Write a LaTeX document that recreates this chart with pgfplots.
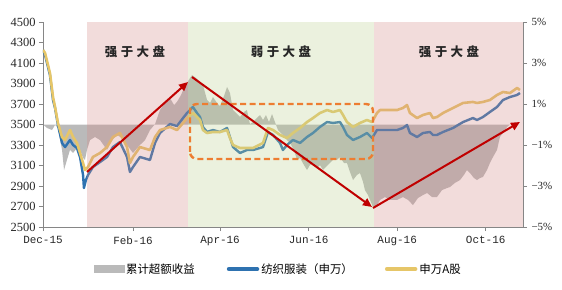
\documentclass[border=0pt]{standalone}
\usepackage{fontspec}
\setmainfont{Liberation Serif}
\newfontfamily\cjk{Noto Sans CJK SC}
\newfontfamily\cjkls[LetterSpace=28]{Noto Sans CJK SC}
\newfontfamily\monof{Liberation Mono}
\usepackage{pgfplots}
\usepackage{pgfplotstable}
\pgfplotsset{compat=1.18}
\usetikzlibrary{arrows.meta}

\definecolor{pinkov}{RGB}{212,138,135}
\definecolor{greenov}{RGB}{188,208,145}
\definecolor{grayarea}{RGB}{186,186,186}
\definecolor{blueL}{RGB}{46,114,176}
\definecolor{goldL}{RGB}{230,198,104}
\definecolor{arrowred}{RGB}{192,0,0}
\definecolor{dashor}{RGB}{237,125,49}
\definecolor{axgray}{RGB}{134,134,134}

\pgfplotstableread{
d p
0 0
2.8 -0.17
6.2 -0.27
8.3 -0.02
10.3 -0.17
13.1 -1.24
14.5 -2.22
16.5 -1.73
18.6 -1.24
20.7 -1.39
23.4 -1.15
25.5 -1.24
27.6 -1.63
28.9 -1.73
30.3 -1.24
32.4 -0.76
35.8 -0.61
39.3 -0.76
44.1 -1.24
47.5 -0.76
51.0 -0.51
54.4 -0.66
57.9 -1.00
62.0 -1.39
66.8 -1.00
70.3 -0.76
73.7 -0.27
77.2 0.02
80.6 0.71
84.1 1.05
87.5 1.29
90.3 0.95
92.3 1.10
95.1 1.44
97.1 1.78
99.2 2.02
101.3 2.27
102.7 2.41
105.4 2.27
108.2 2.07
110.2 1.93
113.0 1.20
115.1 1.05
117.1 1.34
119.9 1.05
121.9 0.90
124.7 1.39
126.8 1.83
128.8 1.54
130.9 0.71
133.7 0.51
135.7 0.37
138.5 0.61
140.5 0.71
142.6 0.02
144.7 0.12
147.4 0.32
149.5 0.46
151.6 0.22
153.6 0.46
155.7 0.12
157.8 0.51
159.8 0.12
161.9 -0.27
165.3 -0.51
168.1 -0.76
170.2 -0.90
172.9 -1.24
175.0 -1.73
177.1 -1.63
179.8 -1.98
181.9 -2.22
183.9 -1.98
186.0 -1.88
188.8 -2.12
190.8 -1.98
192.9 -2.22
195.7 -2.02
197.7 -1.88
199.8 -1.73
202.5 -1.73
204.6 -1.59
207.4 -1.88
209.4 -1.88
211.5 -2.32
213.6 -2.71
216.3 -2.46
218.4 -2.37
220.5 -2.80
221.8 -3.20
223.9 -3.44
225.3 -3.68
227.3 -4.02
230.1 -3.93
232.2 -3.68
235.6 -3.54
239.1 -3.68
243.9 -3.68
248.0 -3.54
251.5 -3.68
254.9 -3.93
258.3 -3.59
261.8 -3.44
264.6 -3.34
268.0 -3.54
271.4 -3.54
274.9 -3.20
278.3 -3.10
280.4 -3.05
283.8 -2.85
287.3 -2.71
290.0 -2.46
292.1 -2.22
294.2 -2.37
296.9 -2.61
299.0 -2.71
301.1 -2.61
303.1 -2.56
305.9 -2.22
307.9 -1.88
310.0 -1.59
312.8 -1.24
314.8 -0.61
316.9 -0.41
319.7 -0.12
321.7 0.0
327 0
}\excess

\pgfplotstableread{
d v
0 4227
1.4 4198
4.8 4002
6.9 3768
8.3 3671
10.3 3515
13.1 3378
15.2 3349
18.6 3446
20.7 3378
23.4 3320
25.5 3222
27.6 3124
28.9 3056
31.0 3085
34.4 3183
39.3 3222
44.1 3280
48.2 3378
53.0 3417
57.9 3280
59.9 3124
62.0 3183
66.8 3280
73.7 3251
77.2 3378
80.6 3446
87.5 3476
92.3 3446
96.5 3515
99.2 3563
103.3 3612
108.2 3544
110.2 3446
113.0 3417
117.1 3427
121.9 3427
126.8 3446
128.8 3368
130.9 3300
135.7 3271
140.5 3271
144.7 3271
151.6 3320
155.0 3466
158.5 3446
163.3 3398
168.1 3368
172.2 3417
177.1 3466
181.9 3524
186.0 3563
190.8 3612
195.7 3641
199.8 3622
204.6 3641
206.7 3593
209.4 3524
213.6 3476
218.4 3515
223.2 3544
226.7 3524
230.1 3612
232.2 3641
239.1 3641
243.9 3641
248.0 3661
250.8 3690
252.8 3612
257.7 3563
261.8 3593
266.6 3612
268.7 3563
271.4 3573
275.6 3612
282.5 3661
289.4 3710
296.2 3720
299.0 3710
303.1 3720
307.9 3739
312.8 3788
316.9 3817
321.7 3807
326.6 3856
328.6 3837
}\swa

\pgfplotstableread{
d v
0 4227
1.4 4178
4.8 3983
6.9 3739
8.3 3661
10.3 3495
13.1 3320
15.2 3280
18.6 3349
20.7 3300
23.4 3271
25.5 3183
27.6 3007
28.2 2880
29.6 2959
31.0 3007
34.4 3085
39.3 3134
44.1 3183
48.2 3280
53.0 3329
57.9 3183
59.9 3037
62.0 3085
66.8 3183
73.7 3154
77.2 3320
80.6 3417
87.5 3505
92.3 3485
96.5 3563
99.2 3612
103.3 3671
106.1 3612
108.2 3573
110.2 3476
113.0 3427
117.1 3446
121.9 3427
126.8 3466
128.8 3378
130.9 3280
135.7 3222
140.5 3251
144.7 3251
151.6 3280
155.0 3427
158.5 3398
163.3 3320
165.3 3251
168.1 3300
172.2 3349
177.1 3320
181.9 3378
186.0 3417
190.8 3476
195.7 3524
199.8 3515
204.6 3524
206.7 3476
209.4 3398
213.6 3349
218.4 3378
223.2 3417
226.7 3368
230.1 3446
232.2 3446
239.1 3446
243.9 3446
248.0 3466
250.8 3495
252.8 3417
257.7 3378
261.8 3417
266.6 3427
268.7 3398
271.4 3398
275.6 3427
282.5 3466
289.4 3524
296.2 3563
299.0 3544
303.1 3573
307.9 3622
312.8 3671
316.9 3739
321.7 3768
326.6 3788
328.6 3807
}\textile

\begin{document}
\begin{tikzpicture}
% right axis: cumulative excess return (%)
\begin{axis}[
  at={(0,0)}, anchor=south west,
  scale only axis, width=480bp, height=205bp,
  xmin=0, xmax=330.7, ymin=-5, ymax=5,
  axis x line=none, axis y line*=right,
  ytick={-5,-3,-1,1,3,5},
  yticklabels={−5\%,−3\%,−1\%,1\%,3\%,5\%},
  tick align=outside, major tick length=4bp,
  axis line style={axgray, line width=0.8bp},
  tick style={axgray, line width=0.8bp},
  yticklabel style={font=\fontsize{11}{11}\selectfont, text=black!85, xshift=1bp},
  clip=false,
]
\addplot[fill=grayarea, draw=none] table[x=d, y=p] {\excess} -- cycle;
\end{axis}
% left axis: index levels
\begin{axis}[
  at={(0,0)}, anchor=south west,
  scale only axis, width=480bp, height=205bp,
  xmin=0, xmax=330.7, ymin=2500, ymax=4500,
  axis y line*=left, axis x line*=bottom,
  ytick={2500,2700,...,4500},
  yticklabels={2500,2700,2900,3100,3300,3500,3700,3900,4100,4300,4500},
  xtick={0,62,122,183,244,305},
  xticklabels={Dec-15,Feb-16,Apr-16,Jun-16,Aug-16,Oct-16},
  tick align=outside, major tick length=4bp,
  axis line style={axgray, line width=0.8bp},
  tick style={axgray, line width=0.8bp},
  yticklabel style={font=\fontsize{12.5}{12.5}\selectfont, text=black!85},
  xticklabel style={font=\monof\fontsize{11}{11}\selectfont, text=black!85, yshift=-2bp},
  legend columns=3,
  legend style={at={(axis description cs:0.49,-0.205)}, anchor=center,
    draw=none, fill=none, font=\cjk\fontsize{11.5}{11.5}\selectfont,
    /tikz/every even column/.append style={column sep=30bp},
    /tikz/every odd column/.append style={column sep=0bp}},
  legend image code/.code={\draw[#1, line width=4.5bp, line cap=round] (0bp,0bp) -- (28bp,0bp);},
]
\addlegendimage{legend image code/.code={\fill[grayarea] (0bp,-3.5bp) rectangle (30bp,3.5bp);}}
\addlegendentry{累计超额收益}
\addplot[blueL, line width=2.4bp, line join=round] table[x=d, y=v] {\textile};
\addlegendentry{纺织服装（申万）}
\addplot[goldL, line width=2.6bp, line join=round] table[x=d, y=v] {\swa};
\addlegendentry{申万A股}
% regime shading (semi-transparent overlays)
\fill[pinkov, opacity=0.3] (axis cs:30.1,2500) rectangle (axis cs:99.9,4500);
\fill[greenov, opacity=0.3] (axis cs:99.9,2500) rectangle (axis cs:228,4500);
\fill[pinkov, opacity=0.3] (axis cs:228,2500) rectangle (axis cs:330.7,4500);
\end{axis}
% annotations
\draw[dashor, line width=2.4bp, dash pattern=on 6bp off 3.5bp, rounded corners=7bp]
  (147bp,68bp) rectangle (330bp,123bp);
\draw[arrowred, line width=2bp, -{Triangle[length=9bp, width=8bp]}] (44bp,55bp) -- (145bp,145bp);
\draw[arrowred, line width=2bp, -{Triangle[length=9bp, width=8bp]}] (149bp,150bp) -- (329bp,20bp);
\draw[arrowred, line width=2bp, -{Triangle[length=9bp, width=8bp]}] (330bp,19bp) -- (477bp,105bp);
\node[font=\cjkls\bfseries\fontsize{12.5}{12.5}\selectfont, text=black!85] at (92bp,175bp) {强于大盘};
\node[font=\cjkls\bfseries\fontsize{12.5}{12.5}\selectfont, text=black!85] at (238bp,175bp) {弱于大盘};
\node[font=\cjkls\bfseries\fontsize{12.5}{12.5}\selectfont, text=black!85] at (406bp,175bp) {强于大盘};
\pgfresetboundingbox
\useasboundingbox (-43bp,-63bp) rectangle (519bp,227bp);
\end{tikzpicture}
\end{document}
